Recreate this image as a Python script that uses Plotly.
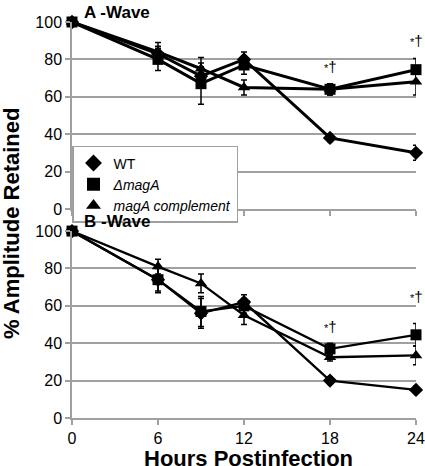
import plotly.graph_objects as go

hours = [0, 6, 9, 12, 18, 24]

# A-wave
a_wt = [100, 83, 71, 80, 38, 30]
a_wt_err = [0, 4, 5, 4, 2, 4]
a_mag = [100, 80, 67, 77, 64, 74.5]
a_mag_err = [0, 6, 11, 5, 3, 6]
a_comp = [100, 84, 75, 65, 64, 68]
a_comp_err = [0, 5, 6, 4, 3, 7]

# B-wave
b_wt = [100, 74, 56, 62, 20, 15]
b_wt_err = [0, 6, 8, 4, 2, 2]
b_mag = [100, 74, 57, 60, 37, 44.5]
b_mag_err = [0, 7, 8, 4, 3, 6]
b_comp = [100, 81, 72, 55, 32.5, 33.5]
b_comp_err = [0, 4, 5, 5, 2, 5]

series_names = ["WT", "<i>ΔmagA</i>", "<i>magA complement</i>"]
symbols = ["diamond", "square", "triangle-up"]
sizes = [11, 11, 11]

yticks = [0, 20, 40, 60, 80, 100]
xticks = [0, 6, 12, 18, 24]

sig_text = "<span style='font-size:11px'>*</span>†"
sig_x = [18, 24]
sig_a_y = [76, 90]
sig_b_y = [49, 65]

FONT = "Liberation Sans, Arial, sans-serif"
GRAY = "#a0a0a0"

fig = go.Figure()

panels = [
    ((a_wt, a_wt_err), (a_mag, a_mag_err), (a_comp, a_comp_err), "x", "y", 3.0),
    ((b_wt, b_wt_err), (b_mag, b_mag_err), (b_comp, b_comp_err), "x2", "y2", 2.3),
]
for p in panels:
    xa, ya, lw = p[3], p[4], p[5]
    for i, (vals, errs) in enumerate(p[:3]):
        fig.add_trace(go.Scatter(
            x=hours, y=vals, xaxis=xa, yaxis=ya, mode="lines+markers",
            line=dict(color="black", width=lw),
            marker=dict(symbol=symbols[i], size=sizes[i], color="black"),
            error_y=dict(type="data", array=errs, visible=True, color="black",
                         thickness=1.5, width=3),
            showlegend=False, cliponaxis=False,
        ))

for i, name in enumerate(series_names):
    fig.add_trace(go.Scatter(
        x=[None], y=[None], mode="markers", name=name,
        marker=dict(symbol=symbols[i], size=13, color="black"),
        showlegend=True,
    ))

axis_common = dict(showline=True, linecolor=GRAY, linewidth=1.5,
                   ticks="outside", tickcolor=GRAY, ticklen=5, tickwidth=1.5,
                   zeroline=False, tickfont=dict(size=16, color="black", family=FONT))

fig.update_layout(
    width=425, height=466,
    margin=dict(l=72, r=9, t=22, b=48, autoexpand=False),
    paper_bgcolor="white", plot_bgcolor="white",
    font=dict(family=FONT, color="black"),
    xaxis=dict(domain=[0, 1], range=[0, 24], tickvals=xticks, showticklabels=False,
               anchor="y", showgrid=False, **axis_common),
    yaxis=dict(domain=[0.528, 1], range=[0, 100], tickvals=yticks, anchor="x",
               showgrid=True, gridcolor=GRAY, gridwidth=1.5, **axis_common),
    xaxis2=dict(domain=[0, 1], range=[0, 24], tickvals=xticks, anchor="y2",
                showgrid=False, **axis_common),
    yaxis2=dict(domain=[0, 0.472], range=[0, 100], tickvals=yticks, anchor="x2",
                showgrid=True, gridcolor=GRAY, gridwidth=1.5, **axis_common),
    legend=dict(x=0.0, y=0.687, xanchor="left", yanchor="top",
                bgcolor="white", bordercolor=GRAY, borderwidth=1.5,
                font=dict(size=14, family=FONT, color="black"),
                tracegroupgap=0, itemwidth=30),
)


def py(px):
    return (418 - px) / 396.0


def pxx(px):
    return (px - 72) / 344.0


for xv, yv in zip(sig_x, sig_a_y):
    fig.add_annotation(text=sig_text, x=xv, y=yv, xref="x", yref="y", showarrow=False,
                       font=dict(size=15, family=FONT, color="black"))
for xv, yv in zip(sig_x, sig_b_y):
    fig.add_annotation(text=sig_text, x=xv, y=yv, xref="x2", yref="y2", showarrow=False,
                       font=dict(size=15, family=FONT, color="black"))

fig.add_annotation(text="<b>A -Wave</b>", x=pxx(82), y=py(12.5), xref="paper", yref="paper",
                   xanchor="left", yanchor="middle", showarrow=False,
                   font=dict(size=17, family=FONT, color="black"))
fig.add_annotation(text="<b>B -Wave</b>", x=pxx(82), y=py(221), xref="paper", yref="paper",
                   xanchor="left", yanchor="middle", showarrow=False,
                   font=dict(size=17, family=FONT, color="black"))
fig.add_annotation(text="<b>% Amplitude Retained</b>", x=pxx(11), y=py(224),
                   xref="paper", yref="paper", textangle=-90, showarrow=False,
                   xanchor="center", yanchor="middle",
                   font=dict(size=22, family=FONT, color="black"))
fig.add_annotation(text="<b>Hours Postinfection</b>", x=pxx(248), y=py(458),
                   xref="paper", yref="paper", showarrow=False,
                   xanchor="center", yanchor="middle",
                   font=dict(size=22, family=FONT, color="black"))

fig.write_html("out.html", config={"displayModeBar": False},
               post_script="document.body.style.margin='0px';document.body.style.overflow='hidden';")
